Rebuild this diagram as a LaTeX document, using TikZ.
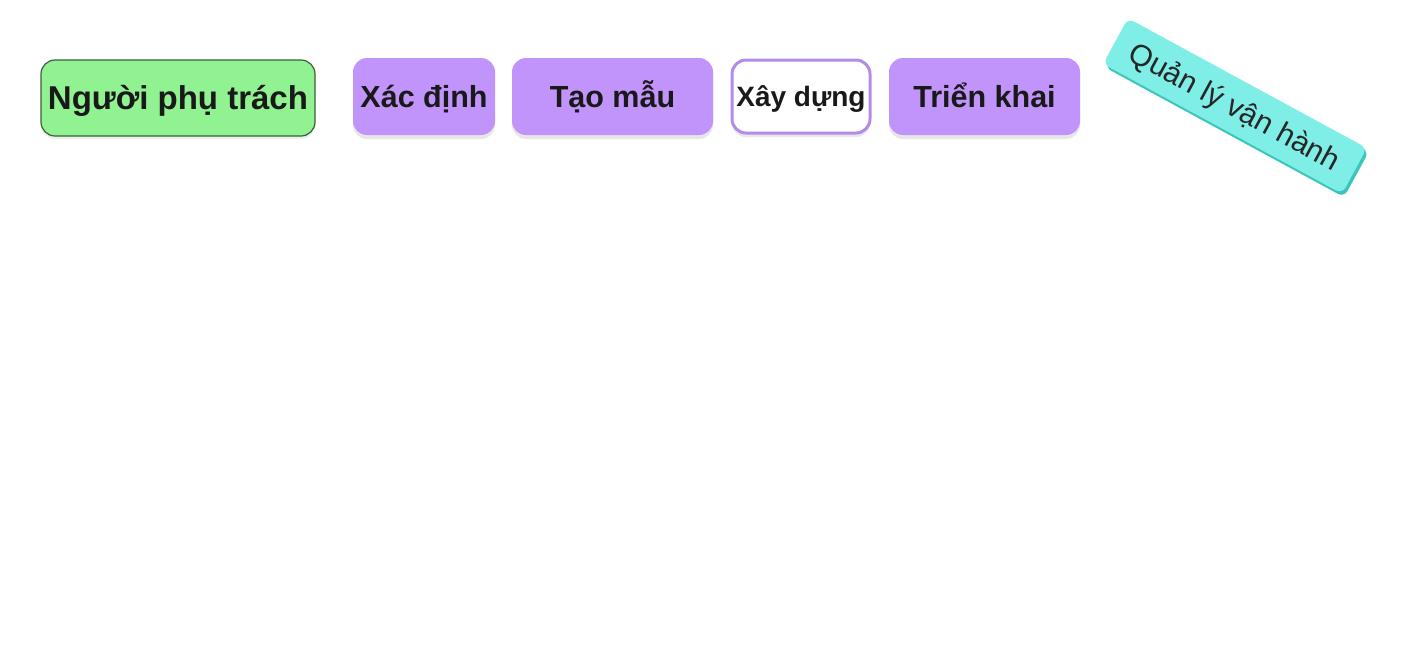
\documentclass[tikz,border=0pt]{standalone}
\usepackage{fontspec}
\setmainfont{Liberation Sans}
\usetikzlibrary{shadows}
\definecolor{gfill}{HTML}{90F290}
\definecolor{gdraw}{HTML}{3E5E3E}
\definecolor{pfill}{HTML}{C194FB}
\definecolor{pdraw}{HTML}{B48BEB}
\definecolor{tfill}{HTML}{7EEEE6}
\definecolor{tshade}{HTML}{3BC5BB}
\tikzset{
  box/.style={rectangle, rounded corners=14pt, inner sep=0pt, align=center, text=black!90,
    text height=0.72*#1pt, text depth=0pt, font=\bfseries\fontsize{#1}{#1}\selectfont},
  softshadow/.style={drop shadow={shadow xshift=0pt, shadow yshift=-4pt, fill=black!70, opacity=0.13}},
  purplebox/.style={box=#1, fill=pfill, softshadow},
}
\begin{document}
\begin{tikzpicture}[x=1pt,y=-1pt]
\useasboundingbox[fill=white] (0,0) rectangle (1409,662);
\node[box=33, fill=gfill, draw=gdraw, line width=1.2pt, minimum width=274pt, minimum height=76pt,
  drop shadow={shadow xshift=0pt, shadow yshift=-3pt, fill=gfill!60!black, opacity=0.12}] (owner) at (178,98) {Người phụ trách};
\node[purplebox=30.5, minimum width=142pt, minimum height=77pt] (define) at (424,96.5) {Xác định};
\node[purplebox=30.5, minimum width=201pt, minimum height=77pt] (proto) at (612.5,96.5) {Tạo mẫu};
\node[box=28, fill=white, draw=pdraw, line width=3pt, minimum width=138pt, minimum height=73pt,
  softshadow] (build) at (801,96.5) {Xây dựng};
\node[purplebox=30.5, minimum width=191pt, minimum height=77pt] (deploy) at (984.5,96.5) {Triển khai};
\node[rectangle, rounded corners=7pt, fill=tshade, minimum width=272pt, minimum height=52pt,
  inner sep=0pt, rotate=-28.5] (opsshade) at (1237,109.5) {};
\node[rectangle, rounded corners=7pt, fill=tfill, minimum width=272pt, minimum height=52pt, inner sep=0pt,
  rotate=-28.5, text height=21.5pt, text depth=0pt,
  font=\fontsize{30}{30}\selectfont, text=black!85] (ops) at (1235,106) {Quản lý vận hành};
\end{tikzpicture}
\end{document}
